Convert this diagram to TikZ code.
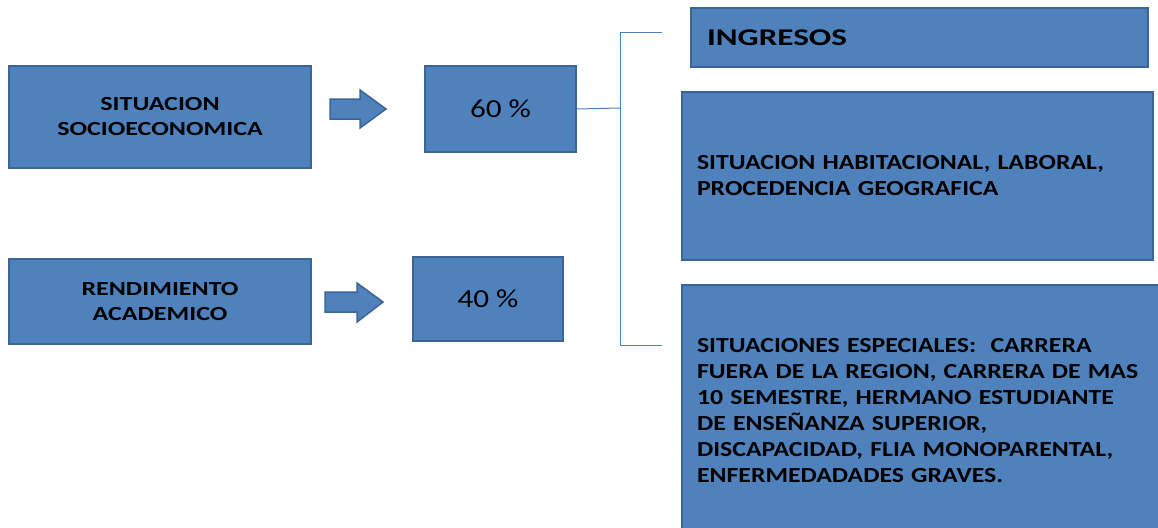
\documentclass[tikz,border=0pt]{standalone}
\usepackage{fontspec}
\setmainfont{Carlito}[FakeStretch=1.2]
\newfontfamily\leftfont{Carlito}[FakeStretch=1.3]
\newfontfamily\ingfont{Carlito}[FakeStretch=1.38]
\definecolor{boxfill}{HTML}{4F81BD}
\definecolor{boxline}{HTML}{3C6494}
\definecolor{connline}{HTML}{4F81BD}
\begin{document}
\begin{tikzpicture}[x=1pt,y=-1pt,
  box/.style={draw=boxline, line width=1.5pt, fill=boxfill, inner sep=0pt, text=black},
  lefttext/.style={align=center, font=\leftfont\bfseries\fontsize{20}{25}\selectfont},
  pct/.style={font=\fontsize{26}{30}\selectfont},
  righttext/.style={align=left, font=\bfseries\fontsize{21.5}{26}\selectfont},
  conn/.style={draw=connline, line width=1pt},
  barrow/.style={draw=boxline, line width=1.5pt, fill=boxfill, line join=miter}]
\useasboundingbox (0,0) rectangle (1158,527);
\clip (0,0) rectangle (1158,527);

\node[box, lefttext, minimum width=302pt, minimum height=102pt] (soc) at (160,117) {SITUACION\\SOCIOECONOMICA};
\node[box, pct, minimum width=151pt, minimum height=86pt] (p60) at (500.5,109) {60 \%};
\node[box, lefttext, minimum width=302pt, minimum height=85pt] (ren) at (160,301.5) {RENDIMIENTO\\ACADEMICO};
\node[box, pct, minimum width=150pt, minimum height=84pt] (p40) at (488,299) {40 \%};

\node[box, righttext, font=\ingfont\bfseries\fontsize{24}{28}\selectfont, inner xsep=16pt, text width=425pt, minimum height=59pt] (ing) at (919.5,37.5) {INGRESOS};
\node[box, righttext, inner xsep=15pt, text width=441pt, minimum height=168pt] (hab) at (917.5,176) {SITUACION HABITACIONAL, LABORAL,\\PROCEDENCIA GEOGRAFICA};
\node[box, righttext, inner xsep=15pt, text width=453pt, minimum height=252pt] (esp) at (923.5,411) {SITUACIONES ESPECIALES:\ \ CARRERA\\FUERA DE LA REGION, CARRERA DE MAS\\10 SEMESTRE, HERMANO ESTUDIANTE\\DE ENSEÑANZA SUPERIOR,\\DISCAPACIDAD, FLIA MONOPARENTAL,\\ENFERMEDADADES GRAVES.};

\draw[barrow] (330,99) -- (360,99) -- (360,90) -- (386,109) -- (360,128) -- (360,119) -- (330,119) -- cycle;
\draw[barrow] (325,292) -- (357,292) -- (357,283) -- (383,302) -- (357,322) -- (357,312) -- (325,312) -- cycle;

\coordinate (jm) at (620,108);
\coordinate (jt) at (620,33);
\coordinate (jb) at (620,345);
\coordinate (et) at (662,33);
\coordinate (eb) at (662,345);
\draw[conn] (p60.east) -- (jm);
\draw[conn] (et) -- (jt) -- (jb) -- (eb);
\end{tikzpicture}
\end{document}
